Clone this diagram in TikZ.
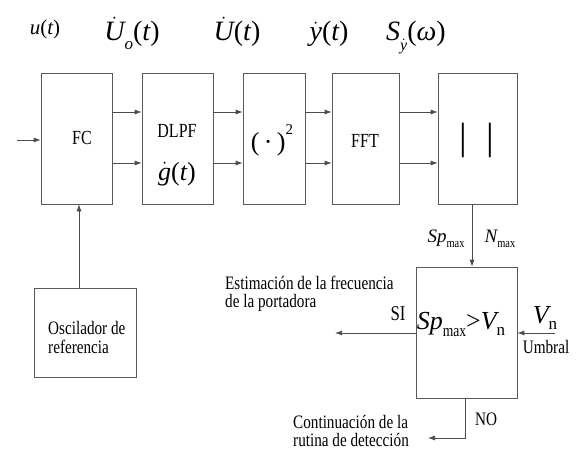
\documentclass[tikz,border=0pt]{standalone}
\usepackage{fontspec}
\usepackage{amsmath}
\usepackage{graphicx}
\setmainfont{Liberation Serif}
\newfontfamily\mfont{Liberation Serif}
\usetikzlibrary{arrows.meta}
\newcommand{\mvar}[1]{{\mfont\itshape #1}}
\newcommand{\mrm}[1]{{\mfont #1}}
\newcommand{\nar}[1]{\scalebox{0.8}[1]{\mfont #1}}
\newcommand{\dotv}[1]{\ensuremath{\dot{\hbox{\mvar{#1}}}}}
\newcommand{\fsz}[1]{\fontsize{#1}{#1}\selectfont}
\tikzset{
  blk/.style={draw=black!65, line width=0.7pt, inner sep=0pt},
  arr/.style={draw=black!70, line width=0.7pt, -{Latex[length=7pt,width=5pt]}},
  lbl/.style={anchor=base, inner sep=0pt},
  lblw/.style={anchor=base west, inner sep=0pt},
  body/.style={font=\fsz{19}},
}
\begin{document}
\begin{tikzpicture}[x=1pt,y=-1pt]
\useasboundingbox[fill=white] (0,0) rectangle (577,449);
% blocks
\node[blk, minimum width=71pt, minimum height=131pt] (fc) at (76.5,138.5) {};
\node[blk, minimum width=71pt, minimum height=131pt] (dlpf) at (177.5,138.5) {};
\node[blk, minimum width=62pt, minimum height=131pt] (sq) at (274,138.5) {};
\node[blk, minimum width=67pt, minimum height=131pt] (fft) at (365.5,138.5) {};
\node[blk, minimum width=79pt, minimum height=131pt] (abs) at (477.5,138.5) {};
\node[blk, minimum width=102pt, minimum height=89pt] (osc) at (85,332.5) {};
\node[blk, minimum width=101pt, minimum height=131pt] (dec) at (466.5,332.5) {};
% helper coordinates
\coordinate (r1) at (0,112);
\coordinate (r2) at (0,163);
\coordinate (in) at (17,140);
\coordinate (ox) at (79,0);
\coordinate (ax) at (472,0);
\coordinate (siend) at (335,333);
\coordinate (vns) at (555,333);
\coordinate (nox) at (465,438);
\coordinate (noend) at (428,438);
% connectors
\draw[arr] (in) -- (in -| fc.west);
\foreach \a/\b in {fc/dlpf, dlpf/sq, sq/fft, fft/abs}{
  \draw[arr] (\a.east |- r1) -- (\b.west |- r1);
  \draw[arr] (\a.east |- r2) -- (\b.west |- r2);
}
\draw[arr] (osc.north -| ox) -- (fc.south -| ox);
\draw[arr] (abs.south -| ax) -- (dec.north -| ax);
\draw[arr] (dec.west |- siend) -- (siend);
\draw[arr] (vns) -- (dec.east |- vns);
\draw[arr] (dec.south -| nox) -- (nox) -- (noend);
% top signal labels
\node[lbl, font=\fsz{21}] (lu) at (45,35) {\mvar{u}\mrm{(}\mvar{t}\mrm{)}};
\node[lbl, font=\fsz{28}] (luo) at (132,41) {\dotv{U}\raisebox{-0.3em}{\fsz{17}\mvar{o}}\mrm{(}\mvar{t}\mrm{)}};
\node[lbl, font=\fsz{28}] (lU) at (237,41) {\dotv{U}\mrm{(}\mvar{t}\mrm{)}};
\node[lbl, font=\fsz{28}] (ly) at (329,41) {\dotv{y}\mrm{(}\mvar{t}\mrm{)}};
\node[lbl, font=\fsz{28}] (ls) at (416,41) {\mvar{S}\raisebox{-0.35em}{\fsz{16}\dotv{y}}\mrm{(}\mvar{ω}\mrm{)}};
% block texts
\node[lbl, font=\fsz{20}] (tfc) at (82,145) {\nar{FC}};
\node[lbl, font=\fsz{20}] (tdlpf) at (177,138) {\nar{DLPF}};
\node[lbl, font=\fsz{26}] (tg) at (177,180) {\dotv{g}\mrm{(}\mvar{t}\mrm{)}};
\node[lbl, font=\fsz{26}] (tsq) at (272,150) {\mrm{(\,·\,)}\raisebox{0.6em}{\fsz{15}\mrm{2}}};
\node[lbl, font=\fsz{20}] (tfft) at (365,147) {\nar{FFT}};
\node[inner sep=0pt, font=\fsz{38}] (tabs) at (477,140) {\mrm{|}\hspace{20pt}\mrm{|}};
\node[lblw, body] (tosc1) at (48,334) {\nar{Oscilador de}};
\node[lblw, body] (tosc2) at (48,353) {\nar{referencia}};
% decision labels
\node[lbl, font=\fsz{19}] (lsp) at (446,242) {\mvar{Sp}\raisebox{-0.3em}{\fsz{13}\nar{max}}};
\node[lbl, font=\fsz{19}] (lnm) at (500,242) {\mvar{N}\raisebox{-0.3em}{\fsz{13}\nar{max}}};
\node[lbl, font=\fsz{26}] (tdec) at (461,329) {\mvar{Sp}\raisebox{-0.3em}{\fsz{17}\nar{max}}\mrm{>}\mvar{V}\raisebox{-0.25em}{\fsz{17}\mrm{n}}};
\node[lbl, font=\fsz{26}] (lvn) at (545,323) {\mvar{V}\raisebox{-0.25em}{\fsz{17}\mrm{n}}};
\node[lbl, body] (lumb) at (546,353) {\nar{Umbral}};
\node[lbl, font=\fsz{21}] (lsi) at (398,320) {\nar{SI}};
\node[lbl, body] (lno) at (486,425) {\nar{NO}};
\node[lblw, body] (test1) at (225,289) {\nar{Estimación de la frecuencia}};
\node[lblw, body] (test2) at (225,307) {\nar{de la portadora}};
\node[lblw, body] (tcon1) at (293,428) {\nar{Continuación de la}};
\node[lblw, body] (tcon2) at (293,446) {\nar{rutina de detección}};
\end{tikzpicture}
\end{document}
